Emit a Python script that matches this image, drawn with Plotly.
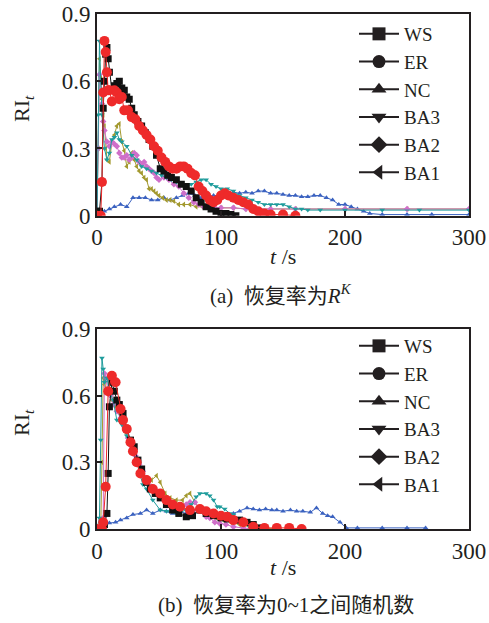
import plotly.graph_objects as go

# ---------------- panel (a) data ----------------
WS_a_t = [0, 2, 4, 5, 6, 7, 8, 9, 10, 12, 14, 16, 18, 20, 22, 24, 26, 28, 30, 33, 36, 39, 42, 45, 48, 51, 54, 57, 60, 64, 68, 72, 76, 80, 84, 88, 92, 96, 100, 104, 108, 112]
WS_a = [0.02, 0.02, 0.15, 0.48, 0.60, 0.72, 0.75, 0.70, 0.64, 0.56, 0.58, 0.59, 0.60, 0.57, 0.56, 0.53, 0.52, 0.48, 0.45, 0.42, 0.40, 0.37, 0.34, 0.31, 0.27, 0.21, 0.20, 0.18, 0.17, 0.16, 0.14, 0.13, 0.11, 0.08, 0.06, 0.04, 0.03, 0.02, 0.01, 0.01, 0.005, 0.0]

ER_a_t = [0, 3, 4, 5, 6, 7, 8, 9, 10, 12, 14, 16, 18, 20, 22, 25, 28, 31, 34, 37, 40, 43, 46, 49, 52, 55, 58, 61, 64, 67, 70, 73, 76, 79, 82, 85, 88, 91, 94, 97, 100, 103, 106, 110, 114, 118, 122, 126, 130, 135, 140, 150, 160]
ER_a = [0.0, 0.0, 0.15, 0.55, 0.78, 0.73, 0.64, 0.56, 0.56, 0.51, 0.56, 0.55, 0.52, 0.53, 0.47, 0.47, 0.44, 0.43, 0.40, 0.38, 0.36, 0.34, 0.31, 0.29, 0.26, 0.24, 0.22, 0.21, 0.21, 0.22, 0.22, 0.21, 0.19, 0.18, 0.13, 0.11, 0.09, 0.07, 0.06, 0.07, 0.09, 0.10, 0.09, 0.08, 0.07, 0.06, 0.05, 0.03, 0.02, 0.01, 0.005, 0.005, 0.0]

NC_a_t = [0, 3, 6, 10, 14, 19, 24, 29, 34, 39, 44, 49, 54, 59, 64, 69, 74, 79, 84, 89, 94, 99, 104, 110, 115, 120, 125, 130, 135, 140, 145, 150, 155, 160, 165, 170, 175, 180, 185, 190, 195, 200, 205, 210, 215, 220, 230, 250, 270, 300]
NC_a = [0.01, 0.02, 0.02, 0.03, 0.04, 0.05, 0.04, 0.08, 0.08, 0.08, 0.07, 0.07, 0.08, 0.07, 0.08, 0.09, 0.10, 0.09, 0.08, 0.08, 0.09, 0.09, 0.10, 0.105, 0.10, 0.105, 0.10, 0.11, 0.11, 0.10, 0.10, 0.095, 0.09, 0.09, 0.085, 0.085, 0.09, 0.09, 0.08, 0.07, 0.05, 0.05, 0.04, 0.03, 0.02, 0.01, 0.005, 0.005, 0.005, 0.005]

BA3_a_t = [0, 1, 2, 3, 4, 6, 8, 10, 12, 14, 16, 18, 20, 24, 28, 32, 36, 40, 44, 48, 52, 56, 60, 64, 68, 72, 76, 80, 84, 88, 92, 96, 100, 105, 110, 115, 120, 125, 130, 135, 140, 145, 150, 155, 160, 165, 170, 180, 200, 230, 260, 300]
BA3_a = [0.0, 0.45, 0.78, 0.60, 0.45, 0.30, 0.25, 0.28, 0.34, 0.35, 0.37, 0.34, 0.33, 0.31, 0.27, 0.25, 0.22, 0.21, 0.20, 0.19, 0.18, 0.17, 0.16, 0.15, 0.14, 0.13, 0.14, 0.15, 0.16, 0.16, 0.14, 0.13, 0.12, 0.12, 0.11, 0.09, 0.08, 0.07, 0.06, 0.05, 0.05, 0.05, 0.05, 0.04, 0.03, 0.03, 0.025, 0.025, 0.025, 0.025, 0.025, 0.025]

BA2_a_t = [0, 1, 2, 3, 4, 5, 6, 8, 10, 12, 14, 16, 18, 20, 22, 24, 26, 28, 30, 32, 34, 36, 38, 40, 42, 44, 46, 48, 50, 54, 58, 62, 66, 70, 74, 78, 82, 86, 90, 95, 100, 110, 120, 140, 160, 200, 250, 300]
BA2_a = [0.0, 0.30, 0.63, 0.60, 0.50, 0.42, 0.38, 0.33, 0.31, 0.33, 0.32, 0.31, 0.28, 0.26, 0.26, 0.27, 0.25, 0.26, 0.28, 0.27, 0.24, 0.23, 0.24, 0.22, 0.21, 0.20, 0.19, 0.17, 0.16, 0.17, 0.16, 0.14, 0.13, 0.10, 0.08, 0.06, 0.05, 0.04, 0.04, 0.035, 0.035, 0.035, 0.03, 0.03, 0.03, 0.03, 0.03, 0.03]

BA1_a_t = [0, 1, 2, 3, 4, 5, 6, 7, 8, 10, 12, 14, 16, 18, 20, 22, 24, 26, 28, 30, 32, 34, 36, 38, 40, 42, 44, 46, 48, 50, 53, 56, 59, 62, 66, 70, 75, 80, 85, 90, 100, 110, 120, 140, 160, 200, 250, 300]
BA1_a = [0.0, 0.30, 0.70, 0.62, 0.52, 0.45, 0.40, 0.30, 0.25, 0.24, 0.33, 0.36, 0.40, 0.41, 0.33, 0.29, 0.22, 0.24, 0.28, 0.25, 0.22, 0.20, 0.19, 0.17, 0.16, 0.12, 0.12, 0.11, 0.10, 0.09, 0.08, 0.07, 0.07, 0.065, 0.05, 0.05, 0.05, 0.04, 0.04, 0.04, 0.035, 0.035, 0.03, 0.03, 0.03, 0.03, 0.03, 0.03]

# ---------------- panel (b) data ----------------
WS_b_t = [0, 4, 6, 8, 9, 10, 12, 14, 16, 18, 21, 24, 27, 30, 33, 36, 40, 43, 47, 51, 56, 61, 66, 72, 77, 83, 88, 94, 100, 105, 110, 115, 121, 126, 131, 135]
WS_b = [0.0, 0.0, 0.02, 0.07, 0.25, 0.55, 0.66, 0.62, 0.58, 0.56, 0.52, 0.45, 0.40, 0.37, 0.31, 0.27, 0.21, 0.18, 0.16, 0.14, 0.11, 0.085, 0.07, 0.055, 0.06, 0.085, 0.07, 0.06, 0.05, 0.045, 0.04, 0.04, 0.03, 0.02, 0.005, 0.0]

ER_b_t = [0, 4, 5, 7, 9, 12, 15, 19, 21, 24, 27, 29, 32, 35, 40, 45, 51, 56, 61, 67, 75, 83, 88, 94, 100, 105, 110, 118, 126, 135, 145, 155, 165]
ER_b = [0.0, 0.0, 0.03, 0.19, 0.62, 0.69, 0.66, 0.54, 0.49, 0.45, 0.39, 0.35, 0.30, 0.25, 0.22, 0.18, 0.16, 0.13, 0.11, 0.10, 0.085, 0.09, 0.08, 0.07, 0.06, 0.055, 0.04, 0.03, 0.01, 0.005, 0.005, 0.005, 0.0]

NC_b_t = [0, 3, 6, 10, 15, 19, 24, 29, 35, 40, 45, 51, 56, 61, 66, 72, 77, 83, 88, 93, 97, 102, 106, 110, 115, 121, 126, 131, 136, 141, 145, 150, 156, 161, 166, 172, 177, 182, 186, 190, 196, 201, 210, 230, 250, 265]
NC_b = [0.0, 0.0, 0.01, 0.027, 0.03, 0.04, 0.05, 0.065, 0.07, 0.085, 0.07, 0.085, 0.08, 0.07, 0.08, 0.07, 0.08, 0.085, 0.075, 0.065, 0.05, 0.06, 0.065, 0.07, 0.08, 0.095, 0.09, 0.085, 0.09, 0.085, 0.085, 0.08, 0.085, 0.08, 0.08, 0.075, 0.095, 0.07, 0.06, 0.055, 0.03, 0.005, 0.005, 0.005, 0.005, 0.005]

BA3_b_t = [0, 2, 3, 4, 5, 6, 8, 10, 13, 16, 20, 24, 28, 32, 37, 40, 45, 51, 56, 64, 72, 76, 80, 83, 88, 91, 94, 97, 99, 103, 107, 110, 113, 118, 123, 128]
BA3_b = [0.0, 0.05, 0.40, 0.77, 0.72, 0.66, 0.68, 0.62, 0.58, 0.49, 0.47, 0.42, 0.37, 0.30, 0.20, 0.18, 0.13, 0.085, 0.08, 0.07, 0.085, 0.11, 0.145, 0.16, 0.16, 0.15, 0.13, 0.10, 0.10, 0.09, 0.07, 0.065, 0.04, 0.03, 0.01, 0.0]

BA2_b_t = [0, 4, 5, 6, 7, 9, 11, 13, 16, 19, 22, 25, 28, 31, 34, 37, 40, 44, 48, 52, 56, 60, 64, 68, 72, 75, 79, 83, 88, 91, 95, 99, 104, 110, 118, 125]
BA2_b = [0.0, 0.0, 0.05, 0.70, 0.68, 0.62, 0.60, 0.56, 0.53, 0.50, 0.46, 0.41, 0.37, 0.33, 0.29, 0.26, 0.23, 0.19, 0.17, 0.14, 0.12, 0.10, 0.09, 0.10, 0.11, 0.12, 0.12, 0.09, 0.055, 0.05, 0.03, 0.025, 0.02, 0.01, 0.005, 0.0]

BA1_b_t = [0, 3, 4, 5, 6, 8, 10, 12, 15, 18, 21, 24, 27, 30, 33, 36, 40, 44, 48, 51, 55, 59, 64, 69, 72, 75, 79, 83, 87, 91, 96, 102, 108, 115, 123, 135, 145]
BA1_b = [0.0, 0.0, 0.30, 0.68, 0.65, 0.62, 0.60, 0.58, 0.55, 0.52, 0.47, 0.43, 0.39, 0.34, 0.30, 0.26, 0.23, 0.22, 0.24, 0.21, 0.16, 0.14, 0.13, 0.13, 0.15, 0.16, 0.12, 0.09, 0.07, 0.06, 0.05, 0.04, 0.03, 0.02, 0.01, 0.005, 0.0]

SERIES = ["WS", "ER", "NC", "BA3", "BA2", "BA1"]
SYMBOLS = ["square", "circle", "triangle-up", "triangle-down", "diamond", "triangle-left"]
COLORS = ["#111111", "#ee2a2a", "#3b62c0", "#1f9c9c", "#cf6fc9", "#a3992f"]
MSIZE = [7, 10, 5, 5, 5, 5]

X_TICKS = [0, 100, 200, 300]
Y_TICKS = [0, 0.3, 0.6, 0.9]
Y_TICK_TEXT = ["0", "0.3", "0.6", "0.9"]

panel_a = {"WS": (WS_a_t, WS_a), "ER": (ER_a_t, ER_a), "NC": (NC_a_t, NC_a),
           "BA3": (BA3_a_t, BA3_a), "BA2": (BA2_a_t, BA2_a), "BA1": (BA1_a_t, BA1_a)}
panel_b = {"WS": (WS_b_t, WS_b), "ER": (ER_b_t, ER_b), "NC": (NC_b_t, NC_b),
           "BA3": (BA3_b_t, BA3_b), "BA2": (BA2_b_t, BA2_b), "BA1": (BA1_b_t, BA1_b)}

W, H = 489, 623
SERIF = "Liberation Serif"
CJK = "Liberation Serif, Noto Sans CJK SC"
INK = "#231f20"

fig = go.Figure()
draw_order = ["NC", "BA1", "BA2", "BA3", "WS", "ER"]

for panel, (xa, ya, leg) in zip([panel_a, panel_b], [("x", "y", "legend"), ("x2", "y2", "legend2")]):
    for name in draw_order:
        i = SERIES.index(name)
        t, v = panel[name]
        fig.add_trace(go.Scatter(
            x=t, y=v, xaxis=xa, yaxis=ya, mode="lines+markers", showlegend=False,
            line=dict(color=COLORS[i], width=1),
            marker=dict(symbol=SYMBOLS[i], size=MSIZE[i], color=COLORS[i], line=dict(width=0)),
            hoverinfo="skip"))
    # black legend entries
    for i, name in enumerate(SERIES):
        fig.add_trace(go.Scatter(
            x=[None], y=[None], xaxis=xa, yaxis=ya, mode="lines+markers", name=name, legend=leg,
            line=dict(color=INK, width=2),
            marker=dict(symbol=SYMBOLS[i], size=13, color=INK, line=dict(width=0))))

def px_x(p):
    return p / W

def px_y(p):
    return 1 - p / H

xdom = [px_x(97), px_x(469)]
axis_common = dict(showgrid=False, zeroline=False, showline=True, linecolor=INK, linewidth=2,
                   mirror=True, ticks="inside", ticklen=5, tickwidth=1.5, tickcolor=INK,
                   automargin=False, ticklabeloverflow="allow",
                   tickfont=dict(family=SERIF, size=23, color=INK))

leg_common = dict(xanchor="left", yanchor="top", bgcolor="rgba(0,0,0,0)",
                  font=dict(family=SERIF, size=19, color=INK), tracegroupgap=0, itemwidth=40)

fig.update_layout(
    width=W, height=H, margin=dict(l=0, r=0, t=0, b=0, autoexpand=False),
    font=dict(family=SERIF, color=INK),
    paper_bgcolor="white", plot_bgcolor="white",
    xaxis=dict(domain=xdom, range=[0, 300], tickvals=X_TICKS, anchor="y", **axis_common),
    yaxis=dict(domain=[px_y(215.7), px_y(14)], range=[0, 0.9], tickvals=Y_TICKS, ticktext=Y_TICK_TEXT,
               anchor="x", **axis_common),
    xaxis2=dict(domain=xdom, range=[0, 300], tickvals=X_TICKS, anchor="y2", **axis_common),
    yaxis2=dict(domain=[px_y(529), px_y(329)], range=[0, 0.9], tickvals=Y_TICKS, ticktext=Y_TICK_TEXT,
                anchor="x2", **axis_common),
    legend=dict(x=px_x(354), y=px_y(15), **leg_common),
    legend2=dict(x=px_x(354), y=px_y(327), **leg_common),
    showlegend=True,
)

ann = []
for ycen in [109, 423]:
    ann.append(dict(text="RI<sub><i>t</i></sub>", x=px_x(23), y=px_y(ycen), xref="paper", yref="paper",
                    showarrow=False, textangle=-90, font=dict(family=SERIF, size=22, color=INK),
                    xanchor="center", yanchor="middle"))
for ycen in [257, 567]:
    ann.append(dict(text="<i>t</i> /s", x=px_x(283), y=px_y(ycen), xref="paper", yref="paper",
                    showarrow=False, font=dict(family=SERIF, size=22, color=INK),
                    xanchor="center", yanchor="middle"))
ann.append(dict(text="(a)  恢复率为<i>R</i><sup><i>K</i></sup>", x=px_x(281), y=px_y(294), xref="paper",
                yref="paper", showarrow=False, font=dict(family=CJK, size=21, color=INK),
                xanchor="center", yanchor="middle"))
ann.append(dict(text="(b)  恢复率为0~1之间随机数", x=px_x(286), y=px_y(605), xref="paper",
                yref="paper", showarrow=False, font=dict(family=CJK, size=21, color=INK),
                xanchor="center", yanchor="middle"))
fig.update_layout(annotations=ann)

# remove the default page margin so the figure sits at the window's top-left corner
fig.write_html("out.html", config={"displayModeBar": False},
               post_script="document.body.style.margin='0';")
